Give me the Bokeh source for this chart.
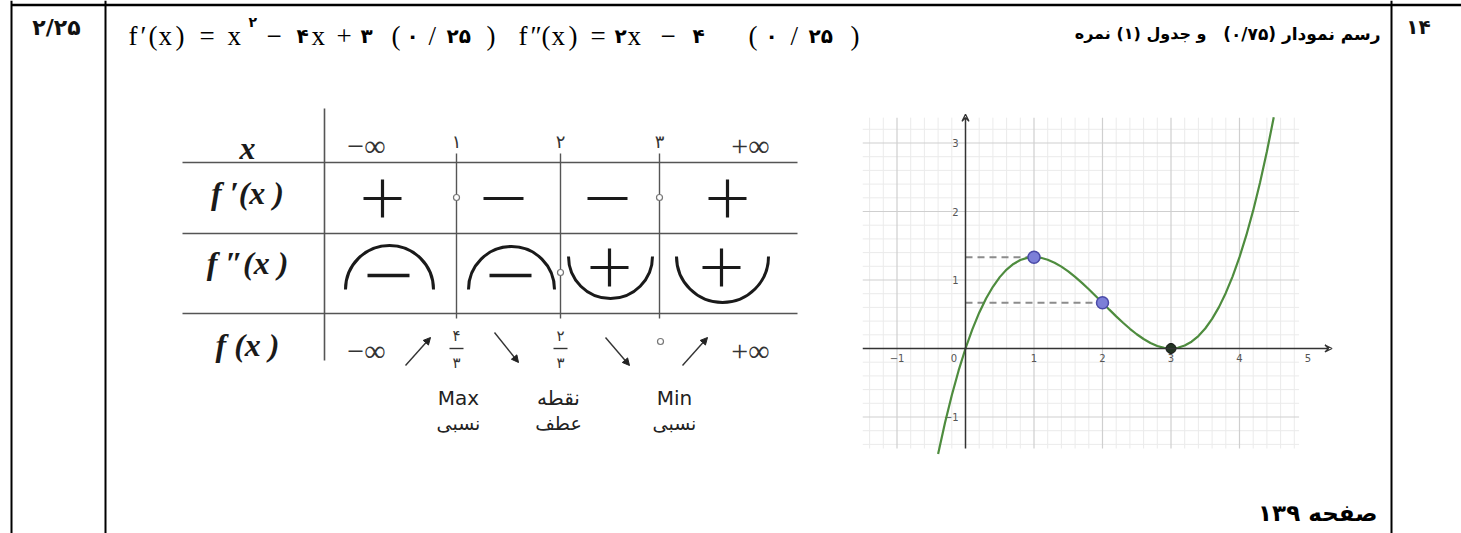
from math import pi
from bokeh.plotting import figure
from bokeh.models import Range1d, Arrow, NormalHead, VeeHead
from bokeh.core.properties import value
from bokeh.embed import file_html
from bokeh.resources import INLINE
import numpy as np

# ---------------- data ----------------
curve_x = [-0.4, -0.3, -0.2, -0.1, 0.0, 0.1, 0.2, 0.3, 0.4, 0.5, 0.6, 0.7, 0.8, 0.9,
           1.0, 1.1, 1.2, 1.3, 1.4, 1.5, 1.6, 1.7, 1.8, 1.9, 2.0, 2.1, 2.2, 2.3, 2.4,
           2.5, 2.6, 2.7, 2.8, 2.9, 3.0, 3.1, 3.2, 3.3, 3.4, 3.5, 3.6, 3.7, 3.8, 3.9,
           4.0, 4.1, 4.2, 4.3, 4.4, 4.5]
curve_y = [-1.541, -1.089, -0.683, -0.320, 0.0, 0.280, 0.523, 0.729, 0.901, 1.042,
           1.152, 1.234, 1.291, 1.323, 1.333, 1.324, 1.296, 1.252, 1.195, 1.125,
           1.045, 0.958, 0.864, 0.766, 0.667, 0.567, 0.469, 0.376, 0.288, 0.208,
           0.139, 0.081, 0.037, 0.010, 0.0, 0.010, 0.043, 0.099, 0.181, 0.292,
           0.432, 0.604, 0.811, 1.053, 1.333, 1.654, 2.016, 2.422, 2.875, 3.375]
special_x = [1, 2]
special_y = [1.333, 0.667]
min_x = [3]
min_y = [0.0]
x_ticks = [-1, 0, 1, 2, 3, 4, 5]
x_tick_labels = ["\u22121", "0", "1", "2", "3", "4", "5"]
y_ticks = [3, 2, 1, -1]
y_tick_labels = ["3", "2", "1", "\u22121"]

table_head = ["\u2212\u221e", "\u06f1", "\u06f2", "\u06f3", "+\u221e"]
row_labels = ["x", "f \u2032(x )", "f \u2033(x )", "f (x )"]
fprime_signs = ["+", "\u2212", "\u2212", "+"]
fsecond_signs = ["\u2212", "\u2212", "+", "+"]
fx_num = ["\u06f4", "\u06f2"]
fx_den = ["\u06f3", "\u06f3"]
fx_notes_top = ["Max", "\u0646\u0642\u0637\u0647", "Min"]
fx_notes_bottom = ["\u0646\u0633\u0628\u06cc", "\u0639\u0637\u0641", "\u0646\u0633\u0628\u06cc"]

score = "\u06f2/\u06f2\u06f5"
qnum = "\u06f1\u06f4"
heading_a = "\u200f\u0631\u0633\u0645 \u0646\u0645\u0648\u062f\u0627\u0631 (\u06f0/\u06f7\u06f5)\u200f"
heading_b = "\u200f\u0648 \u062c\u062f\u0648\u0644 (\u06f1) \u0646\u0645\u0631\u0647\u200f"
footer = "\u0635\u0641\u062d\u0647 \u06f1\u06f3\u06f9"

# ---------------- figure ----------------
W, H = 1461, 533
p = figure(width=W, height=H, x_range=Range1d(0, W), y_range=Range1d(0, H),
           output_backend="svg", toolbar_location=None, min_border=0,
           x_axis_location=None, y_axis_location=None)
p.grid.visible = False
p.outline_line_color = None
p.background_fill_color = "white"
p.border_fill_color = "white"

def S(y):
    return H - y

SERIF = value("Liberation Serif")
SANS = value("DejaVu Sans")

def txt(x, y, s, size, font=SANS, style="normal", align="left", base="middle", color="#111", **kw):
    p.text(x=[x], y=[S(y)], text=[s], text_font=font, text_font_size=size,
           text_font_style=style, text_align=align, text_baseline=base, text_color=color, **kw)

# ---------------- page frame ----------------
BL = "#000000"
p.segment(x0=[11], y0=[S(4.5)], x1=[1461], y1=[S(4.5)], line_color=BL, line_width=2.5)
for vx in [11, 105, 1391]:
    p.segment(x0=[vx], y0=[S(0)], x1=[vx], y1=[S(533)], line_color=BL, line_width=2)

txt(56, 27, score, "22px", style="bold", align="center")
txt(1418, 26, qnum, "20px", style="bold", align="center")

# equation row
eq_serif = [("f", 128), ("\u2032", 140), ("(", 148), ("x", 158), (")", 175), ("=", 199),
            ("x", 227), ("\u2212", 266), ("x", 311), ("+", 336), ("(", 391), ("/", 428),
            (")", 486), ("f", 518), ("\u2033", 530), ("(", 541), ("x", 551), (")", 568),
            ("=", 590), ("x", 627), ("\u2212", 660), ("(", 748), ("/", 790), (")", 850)]
for s, x in eq_serif:
    txt(x, 35, s, "27px", font=SERIF, base="alphabetic", color="#000")
eq_digits = [("\u06f4", 296), ("\u06f3", 360), ("\u06f0", 406), ("\u06f2\u06f5", 446),
             ("\u06f2", 614), ("\u06f4", 692), ("\u06f0", 765), ("\u06f2\u06f5", 808)]
for s, x in eq_digits:
    txt(x, 35, s, "20px", style="bold", base="alphabetic", color="#000")
txt(248, 21, "\u06f2", "14px", style="bold", base="alphabetic", color="#000")

txt(1380, 33, heading_a, "17px", style="bold", align="right", base="alphabetic", color="#000")
txt(1206, 33, heading_b, "16px", style="bold", align="right", base="alphabetic", color="#000")

txt(1377, 512, footer, "23px", style="bold", align="right", color="#000")

# ---------------- variation table ----------------
LC = "#555555"
TC = "#1a1a1a"
hl_y = [162, 233, 313]
p.segment(x0=[182] * 3, y0=[S(v) for v in hl_y], x1=[797] * 3, y1=[S(v) for v in hl_y],
          line_color=LC, line_width=1.6)
p.segment(x0=[324], y0=[S(108)], x1=[324], y1=[S(360)], line_color=LC, line_width=1.6)
col_x = [366, 456, 560, 659, 750]
div_x = col_x[1:4]
p.segment(x0=div_x, y0=[S(153)] * 3, x1=div_x, y1=[S(318)] * 3, line_color=LC, line_width=1.4)

row_y = [147, 192, 262, 344]
for i, lab in enumerate(row_labels):
    txt(247, row_y[i], lab, "32px", font=SERIF, style="bold italic", align="center", color=TC)

for i, s in enumerate(table_head):
    if i in (0, 4):
        txt(col_x[i], 145, s, "30px", font=SERIF, align="center", color="#333")
    else:
        txt(col_x[i], 141, s, "18px", align="center", color="#333")

cell_x = [382, 503, 607, 727]
mk = {"+": "cross", "\u2212": "dash"}
for i, s in enumerate(fprime_signs):
    p.scatter(x=[cell_x[i]], y=[S(198)], marker=mk[s], size=38 if s == "+" else 40,
              line_color=TC, line_width=3.2)
# zeros of f' and f''
p.scatter(x=[456, 659], y=[S(197), S(197)], marker="circle", size=6, fill_color="white",
          line_color="#777", line_width=1.2)
p.scatter(x=[560], y=[S(272)], marker="circle", size=6, fill_color="white",
          line_color="#777", line_width=1.2)

# f'' concavity arcs and signs
arc_cx = [389, 511, 610, 722]
arc_r = [44, 43, 42, 46]
for i, s in enumerate(fsecond_signs):
    if s == "\u2212":
        p.arc(x=[arc_cx[i]], y=[S(289)], radius=arc_r[i], start_angle=0, end_angle=pi,
              line_color=TC, line_width=3)
        p.scatter(x=[arc_cx[i] - 1], y=[S(275)], marker="dash", size=42, line_color=TC, line_width=3.5)
    else:
        p.arc(x=[arc_cx[i]], y=[S(256)], radius=arc_r[i], start_angle=pi, end_angle=2 * pi,
              line_color=TC, line_width=3)
        p.scatter(x=[arc_cx[i] - 1], y=[S(267)], marker="cross", size=38, line_color=TC, line_width=3.2)

# f(x) row
txt(366, 350, table_head[0], "30px", font=SERIF, align="center", color="#333")
txt(750, 350, table_head[4], "30px", font=SERIF, align="center", color="#333")
for i, xx in enumerate([456, 560]):
    txt(xx, 335, fx_num[i], "15px", align="center", color="#333")
    p.segment(x0=[xx - 7], y0=[S(348)], x1=[xx + 7], y1=[S(348)], line_color="#333", line_width=1.4)
    txt(xx, 362, fx_den[i], "15px", align="center", color="#333")
p.scatter(x=[660], y=[S(341)], marker="circle", size=6, fill_color="white",
          line_color="#777", line_width=1.2)
arrows = [((405, 365), (430, 337)), ((494, 332), (518, 362)),
          ((605, 337), (629, 365)), ((682, 365), (707, 337))]
for (a, b) in arrows:
    p.add_layout(Arrow(end=NormalHead(size=7, fill_color="#222", line_color="#222"),
                       x_start=a[0], y_start=S(a[1]), x_end=b[0], y_end=S(b[1]),
                       line_color="#333", line_width=1.4))
note_x = [458, 558, 674]
for i in range(3):
    txt(note_x[i], 397, fx_notes_top[i], "20px", align="center", color="#222")
    txt(note_x[i], 422, fx_notes_bottom[i], "19px", align="center", color="#222")

# ---------------- graph (own scales) ----------------
OX, OY, U = 965.0, 348.0, 68.5
p.extra_x_ranges = {"gx": Range1d((0 - OX) / U, (W - OX) / U)}
p.extra_y_ranges = {"gy": Range1d((OY - H) / U, (OY - 0) / U)}
G = dict(x_range_name="gx", y_range_name="gy")
gx0, gx1, gy0, gy1 = -1.5, 4.87, -1.46, 3.37

minor = np.round(np.arange(-1.4, 4.81, 0.2), 2)
minor_v = [v for v in minor if abs(v - round(v)) > 1e-6]
minor_h = [v for v in np.round(np.arange(-1.4, 3.21, 0.2), 2) if abs(v - round(v)) > 1e-6]
p.segment(x0=minor_v, y0=[gy0] * len(minor_v), x1=minor_v, y1=[gy1] * len(minor_v),
          line_color="#ebebeb", line_width=1, **G)
p.segment(x0=[gx0] * len(minor_h), y0=minor_h, x1=[gx1] * len(minor_h), y1=minor_h,
          line_color="#ebebeb", line_width=1, **G)
major_v = [-1, 1, 2, 3, 4]
major_h = [-1, 1, 2, 3]
p.segment(x0=major_v, y0=[gy0] * 5, x1=major_v, y1=[gy1] * 5, line_color="#cfcfcf", line_width=1.2, **G)
p.segment(x0=[gx0] * 4, y0=major_h, x1=[gx1] * 4, y1=major_h, line_color="#cfcfcf", line_width=1.2, **G)

p.add_layout(Arrow(end=VeeHead(size=7, line_color="#333", line_width=1.3, fill_color=None),
                   x_start=gx0, y_start=0, x_end=5.35, y_end=0, line_color="#333", line_width=1.5, **G))
p.add_layout(Arrow(end=VeeHead(size=7, line_color="#333", line_width=1.3, fill_color=None),
                   x_start=0, y_start=gy0, x_end=0, y_end=3.42, line_color="#333", line_width=1.5, **G))

lab_x = [t - 0.17 if t == 0 else t for t in x_ticks]
p.text(x=lab_x, y=[-0.14] * len(x_ticks), text=x_tick_labels, text_font=SANS, text_font_size="10px",
       text_color="#555", text_align="center", text_baseline="middle", **G)
p.text(x=[-0.1] * len(y_ticks), y=y_ticks, text=y_tick_labels, text_font=SANS, text_font_size="10px",
       text_color="#555", text_align="right", text_baseline="middle", **G)

p.segment(x0=[0, 0], y0=special_y, x1=special_x, y1=special_y, line_color="#8c8c8c",
          line_width=2, line_dash="7 5", **G)
p.line(x=curve_x, y=curve_y, line_color="#4e8c3e", line_width=2.2, **G)
p.scatter(x=special_x, y=special_y, size=12, fill_color="#7c7fd8", line_color="#4b4ba8", line_width=1.5, **G)
p.scatter(x=min_x, y=min_y, size=10, fill_color="#223322", line_color="#111", **G)

open("out.html", "w").write(file_html(p, INLINE))
